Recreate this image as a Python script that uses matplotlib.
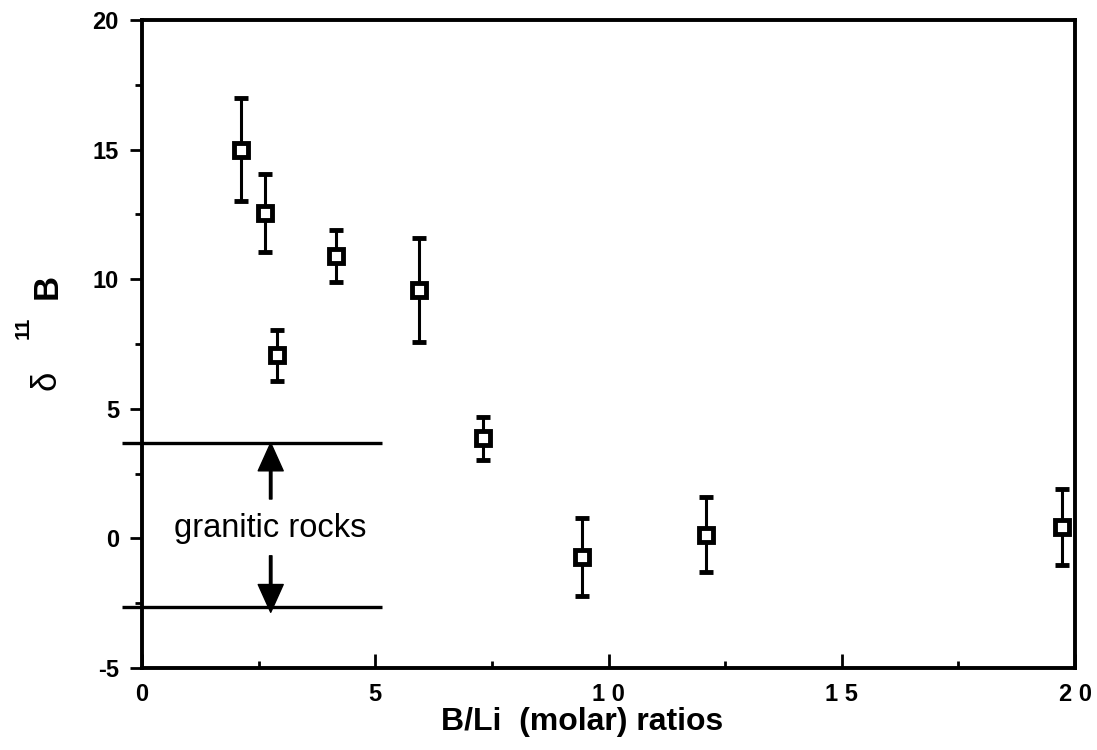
import matplotlib
matplotlib.use("Agg")
import matplotlib.pyplot as plt
from matplotlib.ticker import MultipleLocator, FixedLocator

plt.rcParams['font.family'] = ['Liberation Sans', 'DejaVu Sans']
plt.rcParams['axes.unicode_minus'] = False

# B/Li ratios and delta-11B values with 2-sigma bars
b_li = [2.12, 2.64, 2.90, 4.16, 5.94, 7.32, 9.44, 12.08, 19.73]
d11b = [15.0, 12.55, 7.06, 10.9, 9.58, 3.86, -0.72, 0.15, 0.45]
err = [2.0, 1.5, 1.0, 1.0, 2.0, 0.82, 1.52, 1.45, 1.47]

# range of granitic rocks
granite_hi = 3.68
granite_lo = -2.64

xticks = [0, 5, 10, 15, 20]
xtick_labels = ["0", "5", "1 0", "1 5", "2 0"]
yticks = [-5, 0, 5, 10, 15, 20]

fig = plt.figure(figsize=(10.97, 7.5), dpi=100)
ax = fig.add_axes([0.1294, 0.1093, 0.8506, 0.864])

ax.errorbar(b_li, d11b, yerr=err, fmt='s', color='black', ecolor='black',
            elinewidth=2.2, capsize=5, capthick=2.8, markersize=9.5,
            markerfacecolor='white', markeredgecolor='black',
            markeredgewidth=3.5, zorder=3)

for yv in (granite_hi, granite_lo):
    ax.plot([-0.43, 5.15], [yv, yv], color='black', lw=2.4, clip_on=False,
            solid_capstyle='butt')

arrow = dict(facecolor='black', edgecolor='black', width=1.8,
             headwidth=18, headlength=20)
ax.annotate("", xy=(2.76, granite_hi), xytext=(2.76, 1.52), arrowprops=arrow)
ax.annotate("", xy=(2.76, -2.85), xytext=(2.76, -0.67), arrowprops=arrow)
ax.text(2.74, 0.05, "granitic rocks", fontsize=23.5, ha='center',
        va='baseline')

ax.set_xlim(0, 20)
ax.set_ylim(-5, 20)
ax.xaxis.set_major_locator(FixedLocator(xticks))
ax.set_xticklabels(xtick_labels)
ax.xaxis.set_minor_locator(MultipleLocator(2.5))
ax.yaxis.set_major_locator(FixedLocator(yticks))
ax.yaxis.set_minor_locator(MultipleLocator(2.5))

ax.tick_params(axis='x', which='major', direction='in', length=10, width=2,
               pad=10.5, labelsize=17)
ax.tick_params(axis='x', which='minor', direction='in', length=5, width=2)
ax.tick_params(axis='y', which='major', direction='out', length=8.6, width=2,
               pad=8, labelsize=17)
ax.tick_params(axis='y', which='minor', direction='out', length=5, width=2)
for lab in ax.get_xticklabels() + ax.get_yticklabels():
    lab.set_fontweight('bold')

for sp in ax.spines.values():
    sp.set_linewidth(2.8)

ax.set_xlabel("B/Li  (molar) ratios", fontsize=23, fontweight='bold')
ax.xaxis.set_label_coords(0.4716, -0.0957)
ax.xaxis.label.set_va('baseline')

# y label: delta, superscript 11, B, rotated
fig.text(0.043, 1 - 286 / 750, "B", rotation=90, fontsize=25,
         fontweight='bold', ha='center', va='center')
fig.text(0.021, 1 - 328 / 750, "11", rotation=90, fontsize=15,
         fontweight='bold', ha='center', va='center')
fig.text(0.042, 1 - 380 / 750, "\u03b4", rotation=90, fontsize=25,
         ha='center', va='center')

fig.savefig("out.png", dpi=100)
